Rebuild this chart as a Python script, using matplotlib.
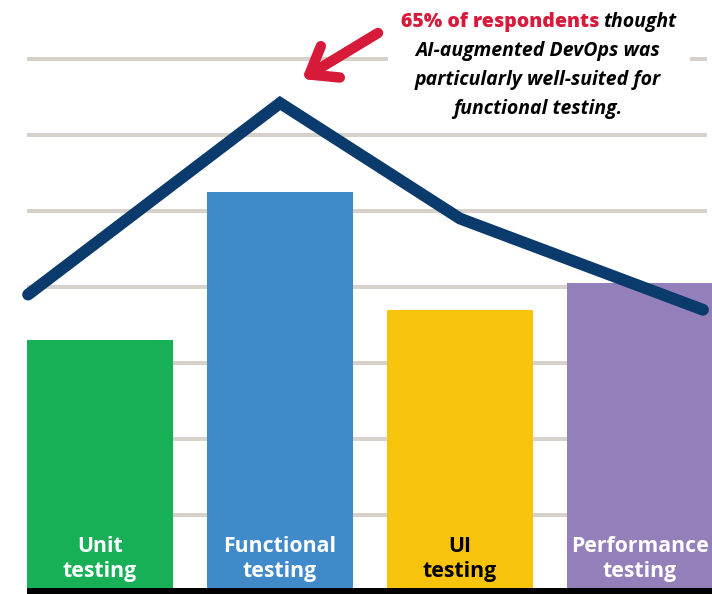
import matplotlib
matplotlib.use("Agg")
import matplotlib.pyplot as plt
from matplotlib.patches import Rectangle

# data
categories = ["Unit\ntesting", "Functional\ntesting", "UI\ntesting", "Performance\ntesting"]
bar_values = [33, 52.5, 37, 40.5]
bar_colors = ["#17b057", "#418ac9", "#f7c30b", "#9380bb"]
label_colors = ["white", "white", "black", "white"]
trend_x = [-0.4, 1, 2, 3.35]
trend_values = [39, 64.2, 49, 37]
grid_levels = [10, 20, 30, 40, 50, 60, 70]

W, H = 712, 594
fig = plt.figure(figsize=(W / 100, H / 100), dpi=100)
ax = fig.add_axes([0, 0, 1, 1])
ax.set_xlim(-0.556, 3.4)
ax.set_ylim(-0.395, 77.76)
ax.axis("off")

font = ["Open Sans", "DejaVu Sans"]


def fx(px):
    return px / W


def fy(py):
    return 1 - py / H


# gridlines behind everything
ax.hlines(grid_levels, -0.405, 3.37, color="#d6d1cb", lw=2.9, zorder=0)
# white patch where the callout text sits
ax.add_patch(Rectangle((fx(388), fy(72)), fx(690) - fx(388), fy(50) - fy(72),
                       transform=fig.transFigure, facecolor="white",
                       edgecolor="none", zorder=1))

x = list(range(len(categories)))
ax.bar(x, bar_values, width=0.81, color=bar_colors, zorder=2)
ax.hlines(0, -0.405, 3.4, color="black", lw=4.3, zorder=3)

ax.plot(trend_x, trend_values, color="#0b3a6d", lw=8.5,
        solid_capstyle="round", solid_joinstyle="miter", zorder=4)

# labels inside bars
for i, (lab, c) in enumerate(zip(categories, label_colors)):
    first, second = lab.split("\n")
    ax.text(i, (591 - 552) / 7.6, first, ha="center", va="baseline",
            color=c, fontsize=15.3, fontweight="bold", family=font, zorder=5)
    ax.text(i, (591 - 577) / 7.6, second, ha="center", va="baseline",
            color=c, fontsize=15.3, fontweight="bold", family=font, zorder=5)

# callout
red = "#d7193a"
fig.text(fx(599), fy(27), "65% of respondents", ha="right", va="baseline",
         color=red, fontsize=14, fontweight="heavy", family=font)
fig.text(fx(603), fy(27), "thought", ha="left", va="baseline",
         color="black", fontsize=14, fontweight="bold", style="italic", family=font)
for line, yb in zip(["AI-augmented DevOps was", "particularly well-suited for",
                     "functional testing."], [56, 85, 114]):
    fig.text(fx(538), fy(yb), line, ha="center", va="baseline",
             color="black", fontsize=14, fontweight="bold", style="italic", family=font)

ax.annotate("", xy=(fx(302), fy(79)), xytext=(fx(378), fy(33)),
            xycoords="figure fraction", textcoords="figure fraction",
            arrowprops=dict(arrowstyle="->,head_length=0.8,head_width=0.6",
                            color=red, lw=7.5, shrinkA=0, shrinkB=0,
                            mutation_scale=22, capstyle="round", joinstyle="round"))

fig.savefig("out.png", dpi=100)
